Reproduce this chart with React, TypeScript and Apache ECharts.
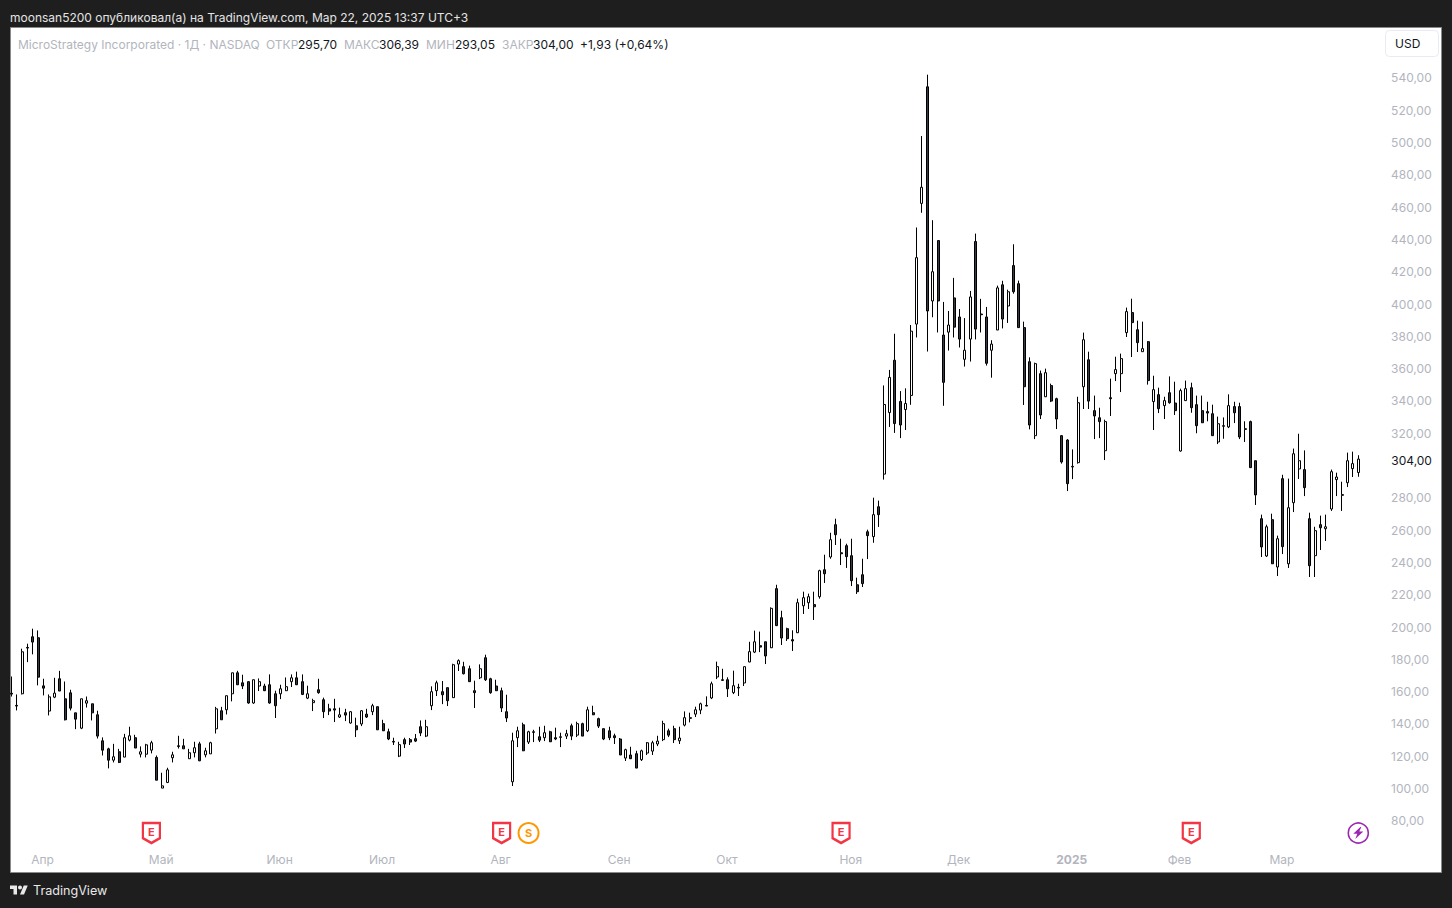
import React, { useEffect, useRef } from "react";
import * as echarts from "echarts";

const highs = [
169.4,158.3,186.6,189.7,199.0,197.9,168.0,158.3,168.6,172.9,
166.3,161.2,146.9,155.6,157.0,152.5,148.2,131.7,125.3,127.7,
124.6,133.9,138.3,133.3,126.1,127.7,129.6,120.5,109.8,112.9,
122.8,132.7,130.8,124.6,129.0,129.0,125.3,129.0,150.6,150.6,
157.5,171.7,172.9,170.5,166.4,167.4,168.2,164.9,170.7,160.6,
164.3,168.8,170.7,172.4,170.7,163.7,155.6,168.0,156.3,152.5,
155.6,150.1,149.4,148.0,143.9,148.6,149.4,152.5,150.7,142.6,
137.1,131.5,129.0,131.5,131.3,133.8,142.2,142.6,163.3,166.8,
166.6,162.5,177.3,180.0,178.5,176.1,166.8,176.9,182.9,168.6,
167.4,162.5,158.1,134.6,138.3,140.8,135.8,136.4,138.3,138.9,
135.8,137.7,134.6,136.4,140.2,141.4,140.8,150.7,151.3,143.9,
137.1,138.3,134.0,131.3,124.7,125.9,123.4,124.1,128.8,129.6,
132.7,142.0,137.1,138.9,138.3,147.8,147.0,150.7,153.2,157.1,
166.2,178.6,174.2,168.9,173.0,164.9,175.5,190.9,197.8,197.2,
190.9,212.2,226.2,210.1,199.6,198.0,217.6,221.9,220.7,221.9,
235.5,244.8,258.4,267.1,254.7,251.6,254.7,230.6,242.3,260.3,
280.1,278.3,349.6,359.2,381.6,346.1,347.8,387.0,447.4,504.0,
542.0,451.9,439.3,401.3,395.7,416.2,396.9,391.3,408.1,443.6,
403.2,398.2,377.6,411.4,414.4,408.9,437.0,414.5,389.1,367.0,
363.7,358.8,360.0,350.7,342.0,318.9,316.4,310.0,342.6,382.3,
370.5,343.3,335.8,328.4,353.8,367.4,369.3,397.8,403.3,389.7,
389.1,377.1,355.6,348.2,342.6,355.2,351.9,347.6,352.6,351.3,
343.3,343.3,339.5,337.7,330.3,329.8,344.1,339.5,338.9,327.4,
327.8,303.0,269.6,263.4,270.2,256.6,294.3,291.9,310.5,319.7,
309.4,270.8,262.1,269.0,269.6,297.5,295.6,290.0,308.0,308.6,306.39,
];

const lows = [
157.0,148.4,158.3,178.3,183.1,163.9,157.7,145.3,156.0,160.4,
142.2,148.4,136.8,136.8,150.2,142.2,131.0,120.5,112.5,116.2,
115.8,119.5,129.2,125.1,119.3,119.3,121.8,105.2,100.3,103.4,
116.2,124.8,124.6,118.5,119.3,117.0,119.3,121.5,134.1,142.6,
145.9,154.0,164.1,161.6,152.5,152.5,160.4,160.4,152.5,143.7,
155.4,160.4,162.9,164.1,157.9,155.4,148.0,158.7,143.7,145.5,
141.2,143.7,141.8,140.2,131.9,138.7,143.7,145.5,136.4,135.6,
130.0,127.0,119.5,125.1,127.0,128.8,132.5,131.9,148.6,157.3,
152.3,151.1,156.3,172.8,170.7,166.0,149.9,167.8,166.6,158.7,
160.4,147.4,141.2,101.6,125.7,123.2,127.6,128.8,128.8,129.4,
128.8,130.0,125.7,130.7,130.0,131.9,132.5,135.0,145.5,137.5,
130.0,130.0,127.6,120.8,117.1,118.3,112.7,117.1,120.8,120.8,
126.3,129.4,131.9,128.2,127.6,138.5,141.0,144.3,146.1,151.1,
155.4,167.8,166.6,156.7,158.5,157.3,163.5,178.2,183.9,184.5,
177.1,187.0,200.6,188.9,191.4,185.2,196.3,208.1,211.2,204.4,
217.6,227.3,242.3,250.8,238.4,236.6,225.4,220.5,224.8,242.1,
252.2,262.0,291.3,323.9,320.2,317.0,322.0,337.6,379.3,456.5,
370.6,391.8,382.4,337.0,371.2,379.3,373.1,361.3,364.4,378.1,
382.4,361.9,354.4,383.9,384.9,388.3,406.4,385.2,337.5,322.4,
316.4,328.8,342.4,339.3,322.6,301.2,284.2,291.6,301.2,335.0,
335.0,316.4,317.0,303.4,330.7,352.3,345.5,379.6,367.2,370.3,
370.5,350.1,322.0,332.5,328.8,338.3,331.3,308.6,340.0,332.7,
320.0,326.3,327.4,318.3,313.3,316.6,323.2,326.3,316.4,314.6,
298.5,275.6,243.4,243.4,239.0,231.6,245.2,236.6,271.2,291.7,
281.1,231.0,231.0,247.7,253.3,271.9,281.1,271.9,286.7,292.9,293.05,
];

const opens = [
159.0,151.5,158.7,187.4,194.0,193.4,163.6,148.0,156.6,168.0,
155.6,159.3,146.9,137.4,152.9,152.5,145.7,129.6,124.6,117.6,
122.8,119.5,130.0,131.5,121.3,121.3,123.8,119.3,100.3,103.8,
119.1,126.5,126.5,118.5,122.2,127.7,120.9,121.5,137.0,148.2,
148.8,158.7,171.7,165.5,166.2,153.0,163.5,163.5,164.3,158.7,
158.7,160.6,166.2,168.6,166.2,156.0,153.2,161.2,155.0,149.4,
149.4,144.3,147.0,140.6,138.9,140.0,146.1,147.6,150.7,140.2,
135.2,129.2,120.1,130.3,130.3,130.9,138.3,132.5,151.3,160.6,
160.0,162.5,156.3,177.1,175.5,174.2,160.6,168.6,181.0,168.0,
163.5,160.6,147.6,104.2,131.5,139.5,128.8,134.8,132.1,131.5,
135.2,131.5,131.7,132.5,138.9,133.1,140.2,135.8,147.0,143.3,
137.1,135.8,132.7,130.7,118.9,120.8,121.6,117.9,122.0,123.2,
127.6,130.3,135.8,137.1,129.6,139.3,143.5,146.1,148.6,151.5,
156.1,169.1,167.4,167.4,159.4,162.3,165.4,178.4,184.5,188.5,
190.9,187.2,223.8,205.8,199.0,192.2,196.5,213.2,215.1,213.9,
218.8,235.5,243.4,263.4,246.0,250.4,244.2,226.2,232.4,259.0,
256.0,274.5,294.7,332.8,365.2,339.7,334.7,343.4,387.6,462.3,
534.5,401.9,439.3,380.8,382.6,403.8,392.0,365.8,378.3,438.7,
393.8,392.0,371.4,383.9,411.9,398.8,423.8,412.6,385.4,364.3,
318.5,356.9,342.6,349.5,341.4,318.5,315.8,299.1,301.8,348.8,
365.5,334.0,329.6,309.2,342.0,356.9,356.9,382.3,394.7,384.1,
370.5,376.7,339.6,343.9,337.1,345.1,338.7,309.0,340.2,348.2,
337.7,334.0,333.4,332.1,314.6,324.3,323.9,336.5,336.5,322.8,
327.2,303.0,267.1,244.0,266.5,237.2,291.9,239.2,277.0,297.9,
297.5,267.1,244.2,263.4,260.9,273.1,291.3,282.0,289.4,298.1,295.70,
];

const closes = [
158.5,151.1,184.7,187.0,190.7,169.0,162.2,156.8,159.1,160.4,
142.6,149.8,143.0,155.6,154.4,146.9,132.5,123.8,117.6,119.7,
116.2,131.5,132.7,125.1,122.8,127.1,128.4,105.2,101.7,111.6,
120.9,126.1,124.6,122.2,125.3,117.2,123.4,128.4,149.4,142.6,
157.5,171.7,164.3,163.5,153.0,167.4,166.2,160.6,153.0,151.3,
161.8,163.1,168.6,164.3,158.3,158.7,154.4,159.4,147.6,148.0,
148.6,145.7,145.5,147.6,136.4,148.2,144.3,151.3,136.4,135.8,
130.7,128.8,127.2,127.6,128.8,129.4,134.4,138.3,160.0,165.5,
158.1,154.4,176.7,179.2,171.1,166.2,159.4,174.2,167.4,159.4,
160.6,149.9,143.7,129.6,135.8,123.4,135.2,135.2,130.0,134.6,
129.0,130.7,132.1,134.0,132.5,140.2,132.5,148.8,145.7,138.7,
130.7,131.5,131.5,120.8,124.1,118.5,112.7,123.4,128.4,128.4,
129.4,140.2,133.1,130.3,131.3,143.9,143.9,148.8,152.5,151.1,
164.9,175.5,167.0,161.8,163.7,162.7,175.5,184.8,190.9,187.6,
182.1,211.6,200.9,193.2,192.8,191.4,215.1,218.2,218.8,212.6,
234.9,233.0,254.1,257.2,245.4,243.6,228.7,221.9,226.9,256.6,
269.6,269.6,337.8,354.6,326.0,325.1,338.4,383.2,428.7,472.3,
395.7,420.0,401.9,351.5,387.0,385.7,378.3,371.4,404.4,384.5,
393.4,363.3,375.2,410.0,390.7,407.6,407.6,385.4,348.8,325.1,
363.1,331.3,357.5,339.9,328.8,302.2,288.8,299.5,338.9,377.9,
339.9,330.7,327.2,327.2,341.4,359.4,366.2,395.3,388.5,376.1,
372.4,352.6,347.0,335.2,340.2,338.9,334.0,346.4,347.6,335.8,
324.7,326.5,332.5,318.5,325.9,324.7,337.1,332.7,317.7,322.4,
298.7,281.8,249.6,262.1,239.2,254.7,249.8,273.9,307.3,303.0,
286.3,238.0,259.7,261.5,262.1,296.2,292.9,281.6,303.0,301.2,304.00,
];

const monthLabels = ["Апр", "Май", "Июн", "Июл", "Авг", "Сен", "Окт", "Ноя", "Дек", "2025", "Фев", "Мар"];
const monthIndexes = [6, 28, 50, 69, 91, 113, 133, 156, 176, 197, 217, 236];
const earningsIndexes = [26, 91, 154, 219];
const splitIndex = 96;
const newsIndex = 250;
const eventPrice = 72.5;
const lastClose = 304.0;
const hiddenTicks = [60, 300, 560];
const totalSlots = 266;

const FONT = "Inter, 'Noto Sans', sans-serif";
const GREY = "#b2b5be";
const INK = "#131722";
const BG = "#1e1e1e";

const SHIELD = "path://M0 0H18V16L9 21L0 16Z";
const BOLT = "path://M7 0L0 9H4L2 16L10 6H6L8 0Z";
const LOGO =
  "M14 22H7V11H0V4h14v18zM28 22h-8l7.5-18h8L28 22zM24 8a4 4 0 1 1-8 0 4 4 0 1 1 8 0z";

const fmt = (v: number) => v.toFixed(2).replace(".", ",");

const legendParts: [string, number, string][] = [
  ["MicroStrategy Incorporated · 1Д · NASDAQ", 18, GREY],
  ["ОТКР", 266, GREY],
  ["295,70", 298, INK],
  ["МАКС", 344, GREY],
  ["306,39", 379, INK],
  ["МИН", 426, GREY],
  ["293,05", 455, INK],
  ["ЗАКР", 502, GREY],
  ["304,00", 533, INK],
  ["+1,93 (+0,64%)", 580, INK],
];

export default function App() {
  const ref = useRef<HTMLDivElement>(null);

  useEffect(() => {
    if (!ref.current) return;
    echarts.graphic.registerShape("tvlogo", echarts.graphic.extendPath(LOGO, {}) as any);
    const chart = echarts.init(ref.current, undefined, { renderer: "svg" });

    const categories: string[] = Array(totalSlots).fill("");
    monthIndexes.forEach((idx, i) => (categories[idx] = monthLabels[i]));

    const candles = opens.map((o, i) => [o, closes[i], lows[i], highs[i]]);

    const markData: any[] = [
      ...earningsIndexes.map((idx) => ({
        coord: [idx, eventPrice],
        symbol: SHIELD,
        symbolSize: [17, 20],
        itemStyle: { color: "#fff", borderColor: "#f23645", borderWidth: 2.4 },
        label: {
          show: true,
          position: "inside",
          formatter: "E",
          color: "#f23645",
          fontFamily: FONT,
          fontWeight: "bold",
          fontSize: 11,
          offset: [0, -1],
        },
      })),
      {
        coord: [splitIndex, eventPrice],
        symbol: "circle",
        symbolSize: 20,
        itemStyle: { color: "#fff", borderColor: "#ff9800", borderWidth: 2 },
        label: {
          show: true,
          position: "inside",
          formatter: "S",
          color: "#ff9800",
          fontFamily: FONT,
          fontWeight: "bold",
          fontSize: 11,
        },
      },
      {
        coord: [newsIndex, eventPrice],
        symbol: "circle",
        symbolSize: 20,
        itemStyle: { color: "#fff", borderColor: "#9c27b0", borderWidth: 1.6 },
        label: { show: false },
      },
      {
        coord: [newsIndex, eventPrice],
        symbol: BOLT,
        symbolSize: [10, 12],
        itemStyle: { color: "#9c27b0", borderWidth: 0 },
        label: { show: false },
      },
      {
        coord: [newsIndex, lastClose],
        symbol: "circle",
        symbolSize: 0,
        itemStyle: { color: "transparent" },
        label: {
          show: true,
          position: "right",
          distance: 33,
          offset: [0, 1],
          formatter: fmt(lastClose),
          color: INK,
          fontFamily: FONT,
          fontSize: 12,
        },
      },
    ];

    chart.setOption({
      animation: false,
      backgroundColor: BG,
      textStyle: { fontFamily: FONT },
      grid: { left: 11.3, width: 265 * 5.388, top: 45.6, height: 807.6, containLabel: false },
      xAxis: {
        type: "category",
        data: categories,
        boundaryGap: false,
        axisLine: { show: false },
        axisTick: { show: false },
        splitLine: { show: false },
        axisLabel: {
          interval: (_: number, v: string) => v !== "",
          color: GREY,
          fontSize: 12,
          fontFamily: FONT,
          margin: 0.6,
          verticalAlign: "top",
          padding: [0, 2, 0, 0],
          formatter: (v: string) => (v === "2025" ? `{b|${v}}` : v),
          rich: { b: { fontWeight: "bold", color: GREY, fontSize: 12, fontFamily: FONT } },
        },
      },
      yAxis: {
        type: "value",
        position: "right",
        min: 60,
        max: 560,
        interval: 20,
        scale: true,
        axisLine: { show: false },
        axisTick: { show: false },
        splitLine: { show: false },
        axisLabel: {
          inside: true,
          align: "left",
          margin: 48,
          color: GREY,
          fontSize: 12,
          fontFamily: FONT,
          formatter: (v: number) => (hiddenTicks.includes(v) ? "" : fmt(v)),
        },
      },
      series: [
        {
          type: "candlestick",
          data: candles,
          barWidth: 2.5,
          z: 3,
          itemStyle: {
            color: "#ffffff",
            color0: "#363a45",
            borderColor: "#000000",
            borderColor0: "#000000",
            borderColorDoji: "#000000",
            borderWidth: 1,
          },
          markPoint: { silent: true, data: markData },
        },
      ],
      graphic: [
        {
          type: "rect",
          z: -10,
          silent: true,
          shape: { x: 10.5, y: 27.5, width: 1431, height: 845 },
          style: { fill: "#ffffff", stroke: "#8a8a8a", lineWidth: 1 },
        },
        {
          type: "text",
          x: 10,
          y: 17,
          style: {
            text: "moonsan5200 опубликовал(а) на TradingView.com, Мар 22, 2025 13:37 UTC+3",
            fill: "#e4e4e4",
            font: `12px ${FONT}`,
            verticalAlign: "middle",
          },
        },
        ...legendParts.map(([text, x, fill]) => ({
          type: "text",
          x,
          y: 44,
          z: 5,
          style: { text, fill, font: `12px ${FONT}`, verticalAlign: "middle" },
        })),
        {
          type: "rect",
          z: 5,
          shape: { x: 1385.5, y: 30.5, width: 53, height: 26, r: 4 },
          style: { fill: "#ffffff", stroke: "#e8ebf2", lineWidth: 1 },
        },
        {
          type: "text",
          x: 1395,
          y: 43.5,
          z: 6,
          style: { text: "USD", fill: INK, font: `12px ${FONT}`, verticalAlign: "middle" },
        },
        {
          type: "tvlogo",
          x: 10,
          y: 883.5,
          scaleX: 0.5,
          scaleY: 0.5,
          style: { fill: "#e8e8e8" },
        },
        {
          type: "text",
          x: 33,
          y: 890.5,
          style: { text: "TradingView", fill: "#e8e8e8", font: `12.6px ${FONT}`, verticalAlign: "middle" },
        },
      ],
    });

    return () => chart.dispose();
  }, []);

  return <div ref={ref} style={{ position: "fixed", left: 0, top: 0, width: 1452, height: 908 }} />;
}
